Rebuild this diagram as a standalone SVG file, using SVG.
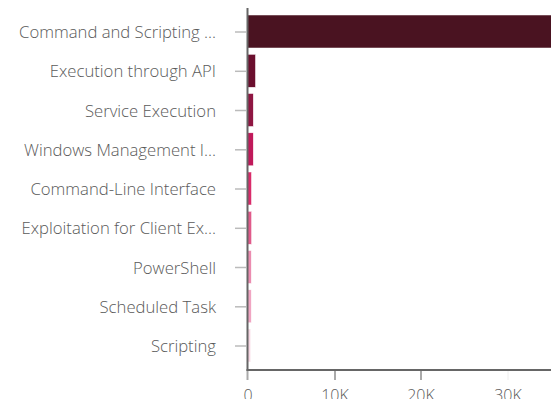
<svg xmlns="http://www.w3.org/2000/svg" width="551" height="399" viewBox="0 0 551 399">
<style>
.lbl{font-family:"Open Sans","Liberation Sans",sans-serif;font-weight:300;font-size:16.7px;fill:#5a5a5a;text-anchor:end;dominant-baseline:central}
.tl{font-family:"Open Sans","Liberation Sans",sans-serif;font-weight:300;font-size:16px;fill:#5a5a5a;text-anchor:middle}
.ct{stroke:#bbb;stroke-width:1.5}
.xt{stroke:#aaa;stroke-width:2}
.bar{stroke:#fff;stroke-width:0.5}
</style>
<rect width="551" height="399" fill="#fff"/>
<g id="bars">
<rect class="bar" x="247" y="15" width="310" height="33" fill="#4a1321"/>
<rect class="bar" x="247" y="54.3" width="8.5" height="33" fill="#6b0f2e"/>
<rect class="bar" x="247" y="93.5" width="6.3" height="33" fill="#8f1642"/>
<rect class="bar" x="247" y="132.8" width="6.3" height="33" fill="#c0195a"/>
<rect class="bar" x="247" y="172" width="4.5" height="33" fill="#d92b6a"/>
<rect class="bar" x="247" y="211.3" width="4.6" height="33" fill="#e05a8a"/>
<rect class="bar" x="247" y="250.5" width="4.3" height="33" fill="#eb8cb0"/>
<rect class="bar" x="247" y="289.8" width="4.3" height="33" fill="#f0a5c2"/>
<rect class="bar" x="247" y="329" width="3.7" height="33" fill="#f7d7e3"/>
</g>
<g id="y-axis">
<line class="ct" x1="235" y1="32" x2="246" y2="32"/>
<line class="ct" x1="235" y1="71.3" x2="246" y2="71.3"/>
<line class="ct" x1="235" y1="110.5" x2="246" y2="110.5"/>
<line class="ct" x1="235" y1="149.8" x2="246" y2="149.8"/>
<line class="ct" x1="235" y1="189" x2="246" y2="189"/>
<line class="ct" x1="235" y1="228.3" x2="246" y2="228.3"/>
<line class="ct" x1="235" y1="267.5" x2="246" y2="267.5"/>
<line class="ct" x1="235" y1="306.8" x2="246" y2="306.8"/>
<line class="ct" x1="235" y1="346" x2="246" y2="346"/>
<line x1="247.5" y1="8" x2="247.5" y2="371" stroke="#666" stroke-width="2"/>
<text class="lbl" x="216" y="31.5">Command and Scripting ...</text>
<text class="lbl" x="216" y="70.8">Execution through API</text>
<text class="lbl" x="216" y="110">Service Execution</text>
<text class="lbl" x="216" y="149.3">Windows Management I...</text>
<text class="lbl" x="216" y="188.5">Command-Line Interface</text>
<text class="lbl" x="216" y="227.8">Exploitation for Client Ex...</text>
<text class="lbl" x="216" y="267">PowerShell</text>
<text class="lbl" x="216" y="306.3">Scheduled Task</text>
<text class="lbl" x="216" y="345.5">Scripting</text>
</g>
<g id="x-axis">
<line x1="246.5" y1="370" x2="551" y2="370" stroke="#666" stroke-width="2"/>
<line class="xt" x1="247.5" y1="371" x2="247.5" y2="380"/>
<line class="xt" x1="335" y1="371" x2="335" y2="380"/>
<line class="xt" x1="421" y1="371" x2="421" y2="380"/>
<line x1="508" y1="371" x2="508" y2="380" stroke="#eee" stroke-width="1"/>
<text class="tl" x="248" y="400.5">0</text>
<text class="tl" x="335" y="400.5">10K</text>
<text class="tl" x="421" y="400.5">20K</text>
<text class="tl" x="508" y="400.5">30K</text>
</g>
</svg>
